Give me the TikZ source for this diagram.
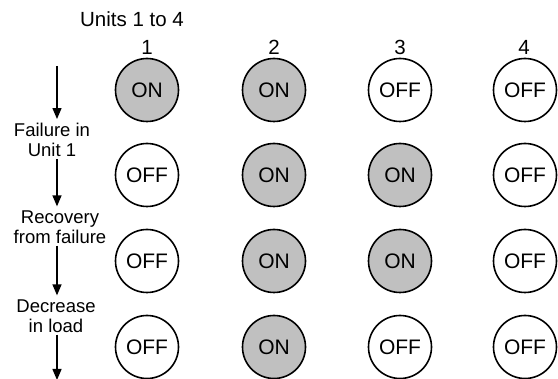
\documentclass[tikz,border=0pt]{standalone}
\usepackage{fontspec}
\setmainfont{Liberation Sans}
\usetikzlibrary{arrows.meta}
\definecolor{ongray}{HTML}{C0C0C0}
\tikzset{
  unit/.style={circle, draw=black, line width=1.6pt, minimum size=63pt, inner sep=0pt, font=\fontsize{21}{23}\selectfont},
  on/.style={unit, fill=ongray},
  off/.style={unit, fill=white},
  lbl/.style={align=center, inner sep=2pt, font=\fontsize{18.5}{20}\selectfont},
  head/.style={font=\fontsize{20.5}{22}\selectfont, inner sep=0pt},
  flow/.style={line width=1.5pt, -{Triangle[length=11pt,width=9pt]}}
}
\begin{document}
\begin{tikzpicture}[x=1pt,y=-1pt]
\useasboundingbox (0,0) rectangle (558,379);
\node[head] (title) at (132,19) {Units 1 to 4};
\node[head] (c1) at (147,47) {1};
\node[head] (c2) at (274,47) {2};
\node[head] (c3) at (400,47) {3};
\node[head] (c4) at (524,47) {4};
% row 1
\node[on]  (a1) at (147,90) {ON};
\node[on]  (a2) at (274,90) {ON};
\node[off] (a3) at (400,90) {OFF};
\node[off] (a4) at (525,90) {OFF};
% row 2
\node[off] (b1) at (147,175) {OFF};
\node[on]  (b2) at (274,175) {ON};
\node[on]  (b3) at (400,175) {ON};
\node[off] (b4) at (525,175) {OFF};
% row 3
\node[off] (r1) at (147,261) {OFF};
\node[on]  (r2) at (274,261) {ON};
\node[on]  (r3) at (400,261) {ON};
\node[off] (r4) at (525,261) {OFF};
% row 4
\node[off] (d1) at (147,347) {OFF};
\node[on]  (d2) at (274,347) {ON};
\node[off] (d3) at (400,347) {OFF};
\node[off] (d4) at (525,347) {OFF};
% left labels
\node[lbl] (fail) at (52,140) {Failure in\\Unit 1};
\node[lbl] (rec) at (60,227) {Recovery\\from failure};
\node[lbl] (dec) at (56,316) {Decrease\\in load};
\coordinate (ax) at (57,0);
\coordinate (top) at (57,66);
\coordinate (bot) at (57,380);
\draw[flow] (top) -- ([yshift=2pt]fail.north -| ax);
\draw[flow] (fail.south -| ax) -- ([yshift=2pt]rec.north -| ax);
\draw[flow] (rec.south -| ax) -- ([yshift=2pt]dec.north -| ax);
\draw[flow] (dec.south -| ax) -- (bot);
\end{tikzpicture}
\end{document}
